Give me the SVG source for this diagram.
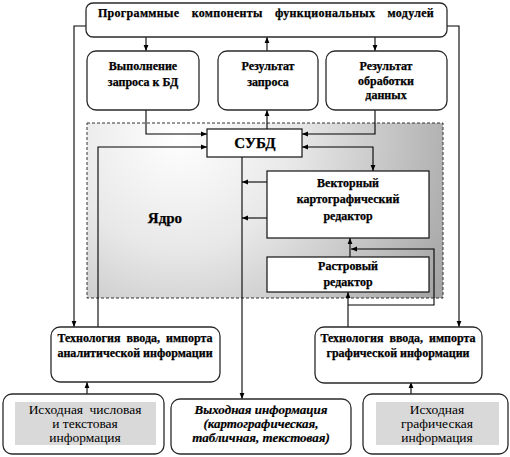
<svg xmlns="http://www.w3.org/2000/svg" width="510" height="457" viewBox="0 0 510 457">
<style>
.bx{fill:#fff;stroke:#2a2a2a;stroke-width:1.3}
.sq{fill:#fff;stroke:#111;stroke-width:1.2}
.c path{fill:none;stroke:#000;stroke-width:1.1}
</style>
<defs>
<marker id="a" viewBox="0 0 10 10" refX="10" refY="5" markerWidth="6" markerHeight="6" markerUnits="userSpaceOnUse" orient="auto-start-reverse">
<path d="M0,1 L10,5 L0,9 Z" fill="#000"/>
</marker>
<radialGradient id="g" cx="180" cy="135" r="330" gradientUnits="userSpaceOnUse">
<stop offset="0" stop-color="#ffffff"/>
<stop offset="0.35" stop-color="#e8e8e8"/>
<stop offset="1" stop-color="#9a9a9a"/>
</radialGradient>
</defs>

<g id="core">
<rect x="87" y="123" width="356" height="175" fill="url(#g)" stroke="#333" stroke-width="1" stroke-dasharray="3,2"/>
<text x="165" y="223" font-family="Liberation Serif" font-size="15" font-weight="bold" text-anchor="middle" stroke="#000" stroke-width="0.25">Ядро</text>
</g>

<g class="c" id="connectors">
<path d="M146,37 V51" marker-end="url(#a)"/>
<path d="M267,51 V37" marker-end="url(#a)"/>
<path d="M375,37 V51" marker-end="url(#a)"/>
<path d="M86,26 H74 V327" marker-end="url(#a)"/>
<path d="M447,26 H459 V327" marker-end="url(#a)"/>
<path d="M146,110 V134 H207" marker-end="url(#a)"/>
<path d="M267,129 V110" marker-end="url(#a)"/>
<path d="M375,110 V134 H302" marker-end="url(#a)"/>
<path d="M98,327 V147 H207" marker-end="url(#a)"/>
<path d="M302,147 H373 V171" marker-start="url(#a)" marker-end="url(#a)"/>
<path d="M242,157 V399" marker-end="url(#a)"/>
<path d="M267,182 H242" marker-end="url(#a)"/>
<path d="M267,218 H242" marker-end="url(#a)"/>
<path d="M350,257 V238" marker-end="url(#a)"/>
<path d="M348,327 V292" marker-end="url(#a)"/>
<path d="M348,305 H434 V249 H351" marker-end="url(#a)"/>
<path d="M87,394 V382" marker-end="url(#a)"/>
<path d="M411,394 V382" marker-end="url(#a)"/>
</g>

<g id="modules">
<rect class="bx" x="86" y="3" width="361" height="34" rx="7"/>
<text x="266" y="17" font-family="Liberation Serif" font-size="12" font-weight="bold" text-anchor="middle" word-spacing="9" letter-spacing="0.3" stroke="#000" stroke-width="0.25">Программные компоненты функциональных модулей</text>
</g>
<g id="query-exec" font-family="Liberation Serif" font-size="12" font-weight="bold" text-anchor="middle" stroke="#000" stroke-width="0.25">
<rect class="bx" x="87" y="51" width="112" height="59" rx="9"/>
<text x="143" y="70">Выполнение</text>
<text x="143" y="86">запроса к БД</text>
</g>
<g id="query-result" font-family="Liberation Serif" font-size="12" font-weight="bold" text-anchor="middle" stroke="#000" stroke-width="0.25">
<rect class="bx" x="218" y="51" width="100" height="59" rx="9"/>
<text x="268" y="70">Результат</text>
<text x="268" y="86">запроса</text>
</g>
<g id="processing-result" font-family="Liberation Serif" font-size="12" font-weight="bold" text-anchor="middle" stroke="#000" stroke-width="0.25">
<rect class="bx" x="326" y="51" width="121" height="59" rx="9"/>
<text x="386" y="70">Результат</text>
<text x="386" y="85">обработки</text>
<text x="386" y="99">данных</text>
</g>
<g id="dbms" font-family="Liberation Serif" font-size="15" font-weight="bold" text-anchor="middle" stroke="#000" stroke-width="0.25">
<rect class="sq" x="207" y="129" width="95" height="28"/>
<text x="255" y="148">СУБД</text>
</g>
<g id="vector-editor" font-family="Liberation Serif" font-size="12" font-weight="bold" text-anchor="middle" stroke="#000" stroke-width="0.25">
<rect class="sq" x="267" y="171" width="162" height="67"/>
<text x="348" y="187">Векторный</text>
<text x="348" y="203">картографический</text>
<text x="348" y="220">редактор</text>
</g>
<g id="raster-editor" font-family="Liberation Serif" font-size="12" font-weight="bold" text-anchor="middle" stroke="#000" stroke-width="0.25">
<rect class="sq" x="267" y="257" width="162" height="35"/>
<text x="348" y="270">Растровый</text>
<text x="348" y="286">редактор</text>
</g>
<g id="analytic-input" font-family="Liberation Serif" font-size="12" font-weight="bold" text-anchor="middle" stroke="#000" stroke-width="0.25">
<rect class="bx" x="51" y="327" width="169" height="55" rx="9"/>
<text x="135" y="342" word-spacing="3">Технология ввода, импорта</text>
<text x="135" y="357">аналитической информации</text>
</g>
<g id="graphic-input" font-family="Liberation Serif" font-size="12" font-weight="bold" text-anchor="middle" stroke="#000" stroke-width="0.25">
<rect class="bx" x="315" y="327" width="167" height="56" rx="9"/>
<text x="398" y="342" word-spacing="3">Технология ввода, импорта</text>
<text x="398" y="357">графической информации</text>
</g>
<g id="source-numeric" font-family="Liberation Serif" font-size="13.5" text-anchor="middle">
<rect class="bx" x="3" y="394" width="161" height="60" rx="9"/>
<rect x="15" y="402" width="141" height="43" fill="#d9d9d9"/>
<text x="85" y="414" word-spacing="3">Исходная числовая</text>
<text x="85" y="428">и текстовая</text>
<text x="85" y="442">информация</text>
</g>
<g id="output" font-family="Liberation Serif" font-size="13" font-weight="bold" font-style="italic" text-anchor="middle" stroke="#000" stroke-width="0.2">
<rect class="bx" x="171" y="399" width="180" height="55" rx="9"/>
<text x="261" y="414">Выходная информация</text>
<text x="261" y="428">(картографическая,</text>
<text x="261" y="442">табличная, текстовая)</text>
</g>
<g id="source-graphic" font-family="Liberation Serif" font-size="13.5" text-anchor="middle">
<rect class="bx" x="363" y="394" width="145" height="60" rx="9"/>
<rect x="376" y="402" width="123" height="43" fill="#d9d9d9"/>
<text x="437" y="414">Исходная</text>
<text x="437" y="428">графическая</text>
<text x="437" y="442">информация</text>
</g>
</svg>
